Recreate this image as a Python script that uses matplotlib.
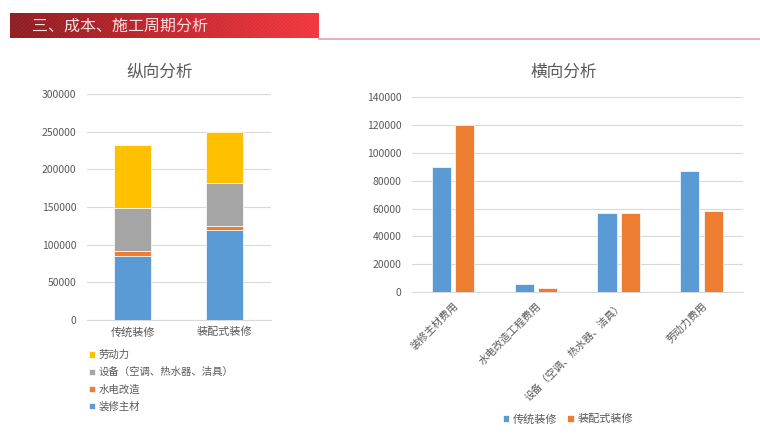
import matplotlib
matplotlib.use("Agg")
import matplotlib.pyplot as plt
import numpy as np
from matplotlib.colors import LinearSegmentedColormap

plt.rcParams['font.family'] = ['Noto Sans CJK SC', 'DejaVu Sans']

# ---- data ----
header_text = "三、成本、施工周期分析"

left_title = "纵向分析"
left_categories = ["传统装修", "装配式装修"]
stack_names = ["装修主材", "水电改造", "设备（空调、热水器、洁具）", "劳动力"]
stack_main = [85000, 120000]
stack_water = [6500, 5000]
stack_equip = [57000, 57000]
stack_labor = [84000, 68000]
left_yticks = [0, 50000, 100000, 150000, 200000, 250000, 300000]

right_title = "横向分析"
right_categories = ["装修主材费用", "水电改造工程费用", "设备（空调、热水器、洁具）", "劳动力费用"]
series_names = ["传统装修", "装配式装修"]
traditional = [90000, 6000, 57000, 87000]
prefab = [120000, 3000, 57000, 58500]
right_yticks = [0, 20000, 40000, 60000, 80000, 100000, 120000, 140000]

colors_stack = ["#5B9BD5", "#ED7D31", "#A5A5A5", "#FFC000"]
colors_series = ["#5B9BD5", "#ED7D31"]
tick_color = "#595959"
grid_color = "#D9D9D9"

W, H = 760, 445
fig = plt.figure(figsize=(W / 100, H / 100), dpi=100)

# ---- header ----
hax = fig.add_axes([10 / W, 1 - 38 / H, (319 - 10) / W, 25 / H])
grad = np.linspace(0, 1, 256).reshape(1, -1)
cmap = LinearSegmentedColormap.from_list("hdr", ["#8E1C20", "#C4262C", "#F2363D"])
hax.imshow(grad, aspect='auto', cmap=cmap, extent=[0, 1, 0, 1])
for s in np.arange(-1, 1.2, 0.012):
    hax.plot([s, s + 0.08], [0, 1], color="white", alpha=0.07, lw=0.6)
hax.set_xlim(0, 1)
hax.set_ylim(0, 1)
hax.axis('off')
fig.text(32 / W, 1 - 26 / H, header_text, color="#F6E2E2", fontsize=11.5, va='center', ha='left')
fig.add_artist(plt.Line2D([319 / W, 1], [1 - 38.5 / H, 1 - 38.5 / H], color="#E9A0A3", lw=1.2))

# ---- left chart ----
ax1 = fig.add_axes([86.7 / W, 1 - 320 / H, (270.7 - 86.7) / W, (320 - 94) / H])
x = np.arange(len(left_categories))
bw = 0.4
bottom = np.zeros(len(left_categories))
handles = []
for vals, c, name in zip([stack_main, stack_water, stack_equip, stack_labor], colors_stack, stack_names):
    b = ax1.bar(x, vals, bw, bottom=bottom, color=c, edgecolor='white', linewidth=0.5, label=name, zorder=3)
    handles.append(b)
    bottom += np.array(vals)
ax1.set_xlim(-0.5, 1.5)
ax1.set_ylim(0, 300000)
ax1.set_yticks(left_yticks)
ax1.set_yticklabels([str(v) for v in left_yticks])
ax1.set_xticks(x)
ax1.set_xticklabels(left_categories)
ax1.yaxis.grid(True, color=grid_color, lw=0.8, zorder=0)
for sp in ['top', 'right', 'left']:
    ax1.spines[sp].set_visible(False)
ax1.spines['bottom'].set_color(grid_color)
ax1.tick_params(axis='both', length=0, colors=tick_color)
ax1.tick_params(axis='y', labelsize=7.5, pad=7.5)
ax1.tick_params(axis='x', labelsize=8, pad=5)
fig.text(160 / W, 1 - 72 / H, left_title, fontsize=12, color=tick_color, ha='center', va='center')

# left legend (reverse order, vertical)
leg1 = fig.legend(handles[::-1], stack_names[::-1], loc='upper left',
                  bbox_to_anchor=(89 / W, 1 - 350 / H), frameon=False, fontsize=7.5,
                  handlelength=0.55, handleheight=0.55, handletextpad=0.35, labelspacing=0.68,
                  borderaxespad=0, borderpad=0)
for t in leg1.get_texts():
    t.set_color(tick_color)

# ---- right chart ----
ax2 = fig.add_axes([411.7 / W, 1 - 292 / H, (743 - 411.7) / W, (292 - 97.3) / H])
x2 = np.arange(len(right_categories))
bw2 = 0.23
off = 0.142
h1 = ax2.bar(x2 - off, traditional, bw2, color=colors_series[0], edgecolor='white', linewidth=0.5, zorder=3)
h2 = ax2.bar(x2 + off, prefab, bw2, color=colors_series[1], edgecolor='white', linewidth=0.5, zorder=3)
ax2.set_xlim(-0.5, len(right_categories) - 0.5)
ax2.set_ylim(0, 140000)
ax2.set_yticks(right_yticks)
ax2.set_yticklabels([str(v) for v in right_yticks])
ax2.set_xticks(x2)
ax2.set_xticklabels(right_categories, rotation=45, ha='right', va='top', rotation_mode='anchor')
ax2.yaxis.grid(True, color=grid_color, lw=0.8, zorder=0)
for sp in ['top', 'right', 'left']:
    ax2.spines[sp].set_visible(False)
ax2.spines['bottom'].set_color(grid_color)
ax2.tick_params(axis='both', length=0, colors=tick_color)
ax2.tick_params(axis='y', labelsize=7.5, pad=7.5)
ax2.tick_params(axis='x', labelsize=7.5, pad=6)
fig.text(564 / W, 1 - 72 / H, right_title, fontsize=12, color=tick_color, ha='center', va='center')

leg2 = fig.legend([h1, h2], series_names, loc='center', ncol=2,
                  bbox_to_anchor=(568 / W, 1 - 419 / H), frameon=False, fontsize=8,
                  handlelength=0.55, handleheight=0.55, handletextpad=0.35, columnspacing=0.9,
                  borderaxespad=0, borderpad=0)
for t in leg2.get_texts():
    t.set_color(tick_color)

fig.savefig("out.png", dpi=100, facecolor='white')
